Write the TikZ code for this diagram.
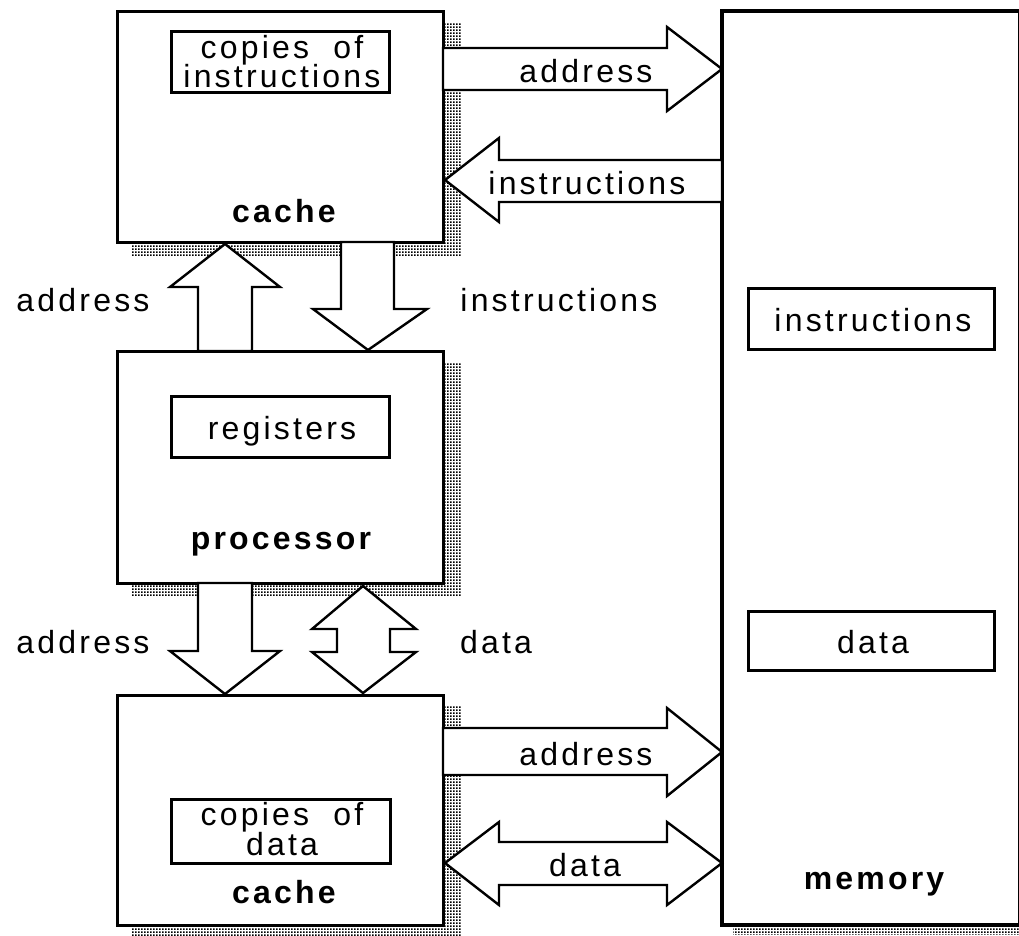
\documentclass[tikz,border=0pt]{standalone}
\usepackage{fontspec}
\setmainfont{Liberation Sans}[LetterSpace=10]
\usetikzlibrary{patterns.meta}

% fine dot grid used for the drop shadows
\tikzdeclarepattern{
  name=shadowdots,
  type=uncolored,
  bounding box={(0pt,0pt) and (3pt,3.4pt)},
  tile size={(3pt,3.4pt)},
  code={\pgfpathrectangle{\pgfpoint{0pt}{0pt}}{\pgfpoint{2pt}{1.8pt}}\pgfusepath{fill}}
}

\tikzset{
  lbl/.style={font=\fontsize{32}{30}\selectfont, inner sep=0pt, anchor=base},
  blbl/.style={lbl, font=\fontsize{32}{30}\selectfont\bfseries},
  unit/.style={draw, line width=3pt, fill=white, inner sep=0pt, outer sep=0pt},
  part/.style={draw, line width=3pt, fill=white, inner sep=0pt, outer sep=0pt},
  shadow/.style={pattern={shadowdots}, pattern color=black},
  barrow/.style={draw, line width=2.4pt, fill=white, line join=miter}
}

\begin{document}
\begin{tikzpicture}[x=1pt, y=-1pt]
\useasboundingbox (0,0) rectangle (1019,935);

% drop shadows
\fill[shadow] (132,22) rectangle (461,256);
\fill[shadow] (132,363) rectangle (461,596);
\fill[shadow] (132,706) rectangle (461,935);
\fill[shadow] (733,22) rectangle (1040,934);

% main units
\node[unit, minimum width=326pt, minimum height=231pt] (icache) at (280,126.5) {};
\node[unit, minimum width=326pt, minimum height=232pt] (proc) at (280,467) {};
\node[unit, minimum width=326pt, minimum height=230pt] (dcache) at (280,810) {};
\node[unit, line width=3.5pt, minimum width=297.3pt, minimum height=914pt] (mem) at (870.65,468) {};

% contents
\node[part, minimum width=218pt, minimum height=61pt] (icopy) at (280,61.5) {};
\node[part, minimum width=218pt, minimum height=61pt] (regs) at (280,426.5) {};
\node[part, minimum width=219pt, minimum height=64pt] (dcopy) at (280.5,831) {};
\node[part, minimum width=246pt, minimum height=61pt] (minstr) at (871,318.5) {};
\node[part, minimum width=246pt, minimum height=59pt] (mdata) at (871,640.5) {};

\node[lbl] (icopyA) at (282,58) {copies\ \ of};
\node[lbl] (icopyB) at (282,87) {instructions};
\node[lbl] (regsT) at (282,439) {registers};
\node[lbl] (dcopyA) at (282,825) {copies\ \ of};
\node[lbl] (dcopyB) at (282,855) {data};
\node[lbl] (minstrT) at (873,331) {instructions};
\node[lbl] (mdataT) at (873,653) {data};

\node[blbl] (icacheT) at (284,222) {cache};
\node[blbl] (procT) at (281,549) {processor};
\node[blbl] (dcacheT) at (284,903) {cache};
\node[blbl] (memT) at (874,889) {memory};

% instruction cache <-> memory
\draw[barrow] (icache.east |- 0,48) -- (667,48) -- (667,27) -- (mem.west |- 0,69)
  -- (667,111) -- (667,90) -- (icache.east |- 0,90) -- cycle;
\draw[barrow] (mem.west |- 0,160) -- (499,160) -- (499,138) -- (445,180)
  -- (499,222) -- (499,202) -- (mem.west |- 0,202) -- cycle;
\node[lbl] (ia) at (586,82) {address};
\node[lbl] (ii) at (587,194) {instructions};

% processor <-> instruction cache
\draw[barrow] (198,0 |- proc.north) -- (198,287) -- (170,287) -- (225,244)
  -- (280,287) -- (252,287) -- (252,0 |- proc.north) -- cycle;
\draw[barrow] (341,0 |- icache.south) -- (341,309) -- (313,309) -- (368,350)
  -- (427,309) -- (394,309) -- (394,0 |- icache.south) -- cycle;
\node[lbl] (pa) at (83,311) {address};
\node[lbl] (pi) at (559,311) {instructions};

% processor <-> data cache
\draw[barrow] (198,0 |- proc.south) -- (198,651) -- (170,651) -- (225,694)
  -- (280,651) -- (252,651) -- (252,0 |- proc.south) -- cycle;
\draw[barrow] (363,586) -- (416,629) -- (390,629) -- (390,652) -- (416,652)
  -- (363,693) -- (312,652) -- (337,652) -- (337,629) -- (312,629) -- cycle;
\node[lbl] (da) at (83,653) {address};
\node[lbl] (dd) at (496,653) {data};

% data cache <-> memory
\draw[barrow] (dcache.east |- 0,728) -- (667,728) -- (667,708) -- (mem.west |- 0,752)
  -- (667,796) -- (667,775) -- (dcache.east |- 0,775) -- cycle;
\draw[barrow] (445,863) -- (499,822) -- (499,842) -- (667,842) -- (667,822)
  -- (mem.west |- 0,863) -- (667,905) -- (667,885) -- (499,885) -- (499,905) -- cycle;
\node[lbl] (ma) at (586,765) {address};
\node[lbl] (md) at (585,876) {data};
\end{tikzpicture}
\end{document}
